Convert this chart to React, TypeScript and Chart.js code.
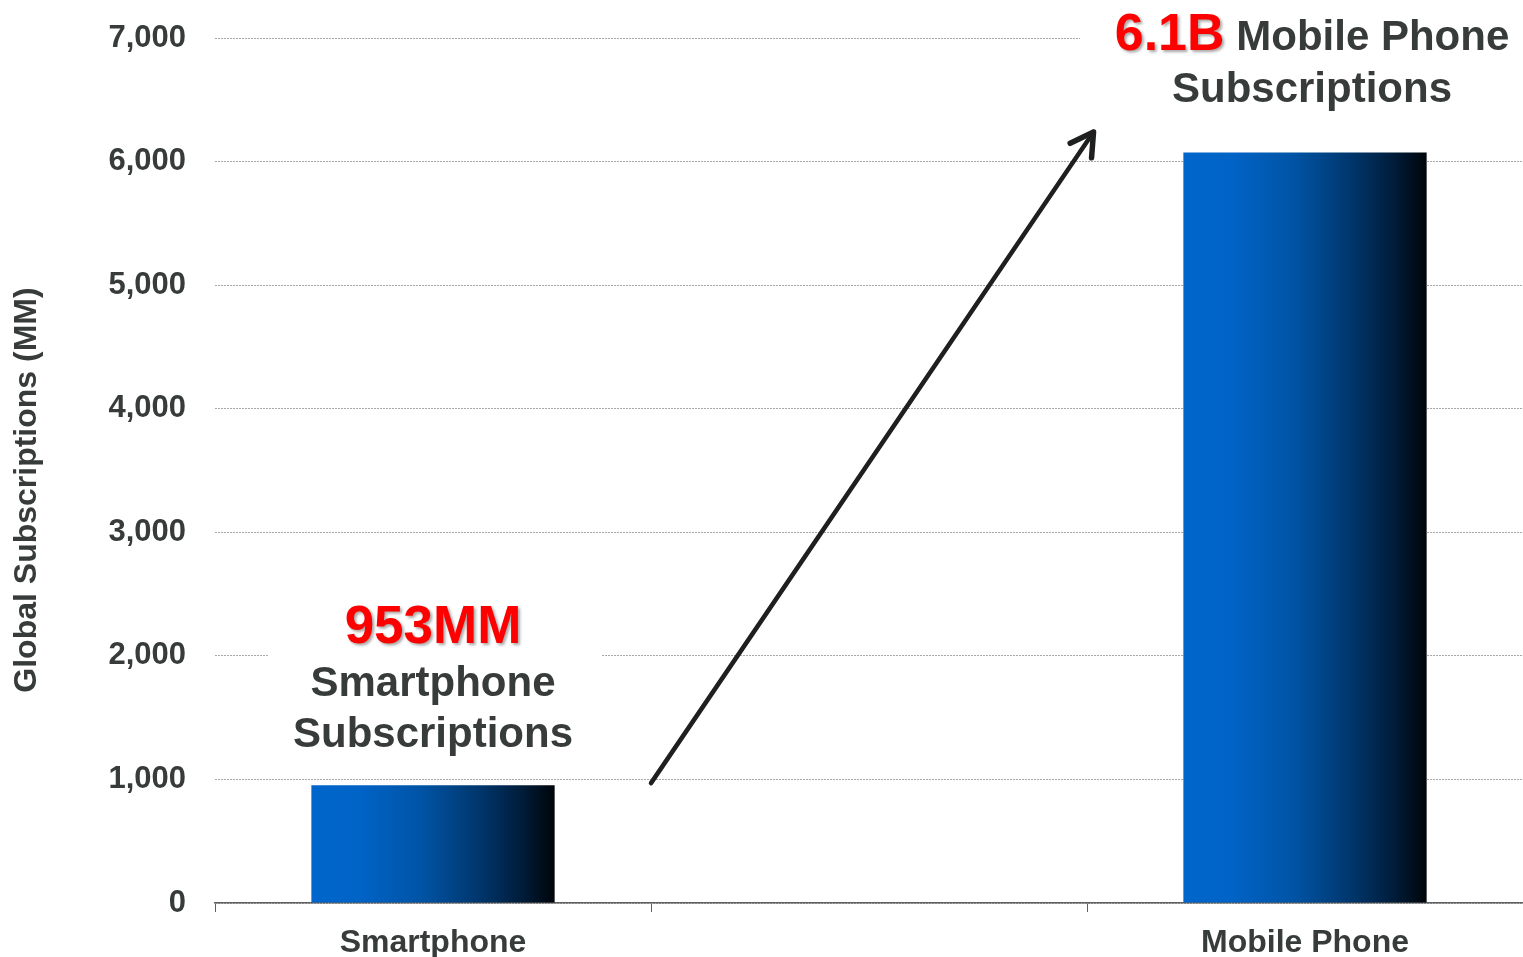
import { useEffect, useRef } from "react";
import { Chart, registerables } from "chart.js";

Chart.register(...registerables);

// ---- data ----
const categories = ["Smartphone", "", "Mobile Phone"];
const subscriptions: (number | null)[] = [953, null, 6073];
const yMin = 0;
const yMax = 7000;
const yStep = 1000;
const yTitle = "Global Subscriptions (MM)";
const smartLabel = ["953MM", "Smartphone", "Subscriptions"];
const mobileLabel = ["6.1B", "Mobile Phone", "Subscriptions"];
// arrow endpoints: [category position, value]
const arrowFrom = [0.5, 970];
const arrowTo = [1.515, 6240];

const FONT = "'Liberation Sans', Arial, sans-serif";
const DARK = "#373C3A";
const RED = "#FF0000";
const BAR_PCT = 0.558;

const annotationPlugin = {
  id: "annotations",
  afterDatasetsDraw(chart: any) {
    const { ctx } = chart;
    const xs = chart.scales.x;
    const ys = chart.scales.y;
    ctx.save();

    // white masks behind annotation text
    ctx.fillStyle = "#ffffff";
    ctx.fillRect(268, 598, 334, 166);
    ctx.fillRect(1080, 0, 443, 112);

    // smartphone label
    const cx1 = xs.getPixelForValue(0);
    ctx.textAlign = "center";
    ctx.textBaseline = "alphabetic";
    ctx.save();
    ctx.shadowColor = "rgba(0,0,0,0.35)";
    ctx.shadowOffsetX = 2;
    ctx.shadowOffsetY = 2;
    ctx.shadowBlur = 3;
    ctx.fillStyle = RED;
    ctx.font = `bold 53px ${FONT}`;
    ctx.fillText(smartLabel[0], cx1, 643);
    ctx.restore();
    ctx.fillStyle = DARK;
    ctx.font = `bold 42px ${FONT}`;
    ctx.fillText(smartLabel[1], cx1, 696);
    ctx.fillText(smartLabel[2], cx1, 747);

    // mobile label
    const cx2 = xs.getPixelForValue(2) + 7;
    ctx.font = `bold 52px ${FONT}`;
    const w1 = ctx.measureText(mobileLabel[0]).width;
    ctx.font = `bold 42px ${FONT}`;
    const w2 = ctx.measureText(" " + mobileLabel[1]).width;
    const startX = cx2 - (w1 + w2) / 2;
    ctx.textAlign = "left";
    ctx.save();
    ctx.shadowColor = "rgba(0,0,0,0.35)";
    ctx.shadowOffsetX = 2;
    ctx.shadowOffsetY = 2;
    ctx.shadowBlur = 3;
    ctx.fillStyle = RED;
    ctx.font = `bold 52px ${FONT}`;
    ctx.fillText(mobileLabel[0], startX, 50);
    ctx.restore();
    ctx.fillStyle = DARK;
    ctx.font = `bold 42px ${FONT}`;
    ctx.fillText(" " + mobileLabel[1], startX + w1, 50);
    ctx.textAlign = "center";
    ctx.fillText(mobileLabel[2], cx2, 102);

    // arrow
    const x0 = xs.getPixelForValue(arrowFrom[0]);
    const y0 = ys.getPixelForValue(arrowFrom[1]);
    const x1 = xs.getPixelForValue(arrowTo[0]);
    const y1 = ys.getPixelForValue(arrowTo[1]);
    ctx.strokeStyle = "#1E201F";
    ctx.lineWidth = 4.5;
    ctx.lineCap = "round";
    ctx.lineJoin = "round";
    ctx.beginPath();
    ctx.moveTo(x0, y0);
    ctx.lineTo(x1, y1);
    ctx.stroke();
    const ang = Math.atan2(y1 - y0, x1 - x0);
    const hl = 26;
    const spread = 0.52;
    ctx.lineWidth = 5.5;
    ctx.beginPath();
    ctx.moveTo(x1 - hl * Math.cos(ang - spread), y1 - hl * Math.sin(ang - spread));
    ctx.lineTo(x1, y1);
    ctx.lineTo(x1 - hl * Math.cos(ang + spread), y1 - hl * Math.sin(ang + spread));
    ctx.stroke();

    // y title
    ctx.save();
    ctx.translate(27, 490);
    ctx.rotate(-Math.PI / 2);
    ctx.textAlign = "center";
    ctx.textBaseline = "middle";
    ctx.fillStyle = DARK;
    ctx.font = `bold 32px ${FONT}`;
    ctx.fillText(yTitle, 0, 0);
    ctx.restore();

    ctx.restore();
  },
};

export default function App() {
  const ref = useRef<HTMLCanvasElement | null>(null);

  useEffect(() => {
    if (!ref.current) return;
    const chart = new Chart(ref.current, {
      type: "bar",
      data: {
        labels: categories,
        datasets: [
          {
            data: subscriptions as any,
            barPercentage: BAR_PCT,
            categoryPercentage: 1,
            borderWidth: 0,
            backgroundColor: (c: any) => {
              const ch = c.chart;
              const xs = ch.scales?.x;
              if (!xs || c.dataIndex == null || !isFinite(xs.width)) return "#0066CC";
              const center = xs.getPixelForValue(c.dataIndex);
              const w = (xs.width / categories.length) * BAR_PCT;
              const g = ch.ctx.createLinearGradient(center - w / 2, 0, center + w / 2, 0);
              g.addColorStop(0, "#0066CC");
              g.addColorStop(0.2, "#0063C6");
              g.addColorStop(0.45, "#0054A6");
              g.addColorStop(0.7, "#00356A");
              g.addColorStop(0.88, "#001A35");
              g.addColorStop(1, "#000508");
              return g;
            },
          },
        ],
      },
      options: {
        responsive: false,
        animation: false,
        devicePixelRatio: 1,
        layout: { padding: { top: 38, right: -3, left: 0, bottom: 0 } },
        plugins: {
          legend: { display: false },
          tooltip: { enabled: false },
        },
        scales: {
          x: {
            offset: true,
            grid: {
              offset: true,
              drawOnChartArea: false,
              drawTicks: true,
              tickLength: 9,
              color: "#606060",
              lineWidth: 1,
            },
            border: { display: true, color: "#606060", width: 1.5 },
            ticks: {
              autoSkip: false,
              maxRotation: 0,
              padding: 12,
              color: DARK,
              font: { family: FONT, size: 32, weight: "bold" },
            },
            afterFit: (s: any) => {
              s.height = 54;
              s.paddingLeft = 0;
              s.paddingRight = 0;
            },
          },
          y: {
            min: yMin,
            max: yMax,
            ticks: {
              stepSize: yStep,
              padding: 29,
              color: DARK,
              font: { family: FONT, size: 31, weight: "bold" },
              callback: (v: any) => Number(v).toLocaleString("en-US"),
            },
            grid: { drawTicks: false, color: "#A8A8A8", lineWidth: 1 },
            border: { display: false, dash: [2, 1] },
            afterFit: (s: any) => {
              s.width = 215;
              s.paddingTop = 0;
              s.paddingBottom = 0;
            },
          },
        },
      } as any,
      plugins: [annotationPlugin],
    });
    return () => chart.destroy();
  }, []);

  return (
    <div style={{ position: "fixed", left: 0, top: 0, width: 1523, height: 957, background: "#fff" }}>
      <canvas ref={ref} width={1523} height={957} style={{ display: "block" }} />
    </div>
  );
}
